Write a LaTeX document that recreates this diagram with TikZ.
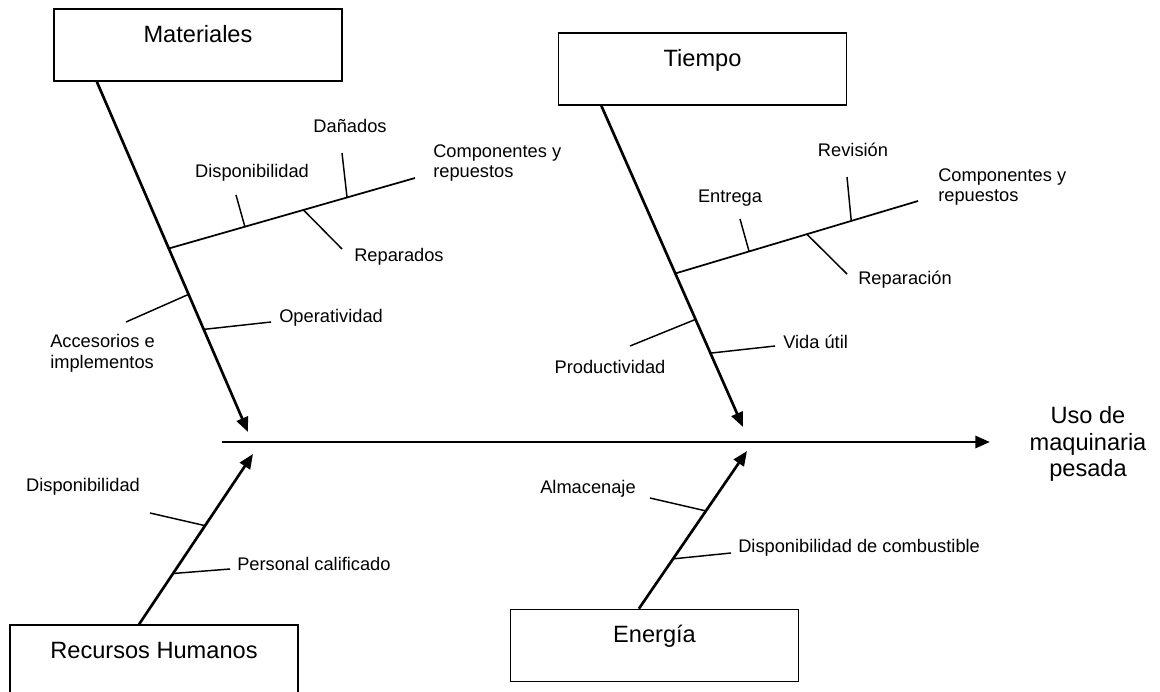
\documentclass[tikz,border=0pt]{standalone}
\usepackage{fontspec}
\setmainfont{Liberation Sans}
\usetikzlibrary{arrows.meta,calc}

\tikzset{
    causebox/.style={draw, line width=1.2pt, inner sep=0pt, minimum width=216pt,
        text height=25pt, text depth=29pt, font=\fontsize{17.7}{20}\selectfont},
    bone/.style={line width=2pt, -{Triangle[length=11pt,width=9pt]}},
    rib/.style={line width=1.3pt},
    tick/.style={line width=1.1pt},
    lbl/.style={inner sep=0pt, align=left, font=\fontsize{13.7}{15.5}\selectfont},
}

\begin{document}
\begin{tikzpicture}[x=0.75pt,y=-0.75pt]
    \useasboundingbox (0,0) rectangle (1160,692);

    % causes
    \node[causebox] (mat) at (198,45) {Materiales};
    \node[causebox] (tie) at (702.5,69) {Tiempo};
    \node[causebox] (rh) at (154,661) {Recursos Humanos};
    \node[causebox] (ene) at (654.5,645.5) {Energía};

    % effect
    \coordinate (spineL) at (222,442);
    \coordinate (spineR) at (990,442);
    \node[align=center, inner sep=0pt, font=\fontsize{17.7}{20}\selectfont] (efecto) at (1088,444) {Uso de\\maquinaria\\pesada};
    \draw[bone, line width=2.2pt] (spineL) -- (spineR);

    % Materiales
    \coordinate (matTip) at (248,432);
    \coordinate (matEnd) at (415,178);
    \draw[bone] (mat.200.75) -- coordinate[pos=.476] (m0) coordinate[pos=.607] (m1) coordinate[pos=.707] (m2) (matTip);
    \draw[rib] (m0) -- coordinate[pos=.309] (m01) coordinate[pos=.547] (m02) coordinate[pos=.724] (m03) (matEnd);
    \node[lbl] (mDisp) at (252,173) {Disponibilidad};
    \node[lbl] (mDan) at (350,126) {Dañados};
    \node[lbl, anchor=west] (mRep) at (354,257) {Reparados};
    \node[lbl, anchor=west] (mComp) at (433,163) {Componentes y\\repuestos};
    \node[lbl, anchor=west] (mAcc) at (50,353) {Accesorios e\\implementos};
    \node[lbl, anchor=west] (mOpe) at (279,318) {Operatividad};
    \draw[tick] (m01) -- (236,195) coordinate (mDispEnd);
    \draw[tick] (m02) -- (342,249) coordinate (mRepEnd);
    \draw[tick] (m03) -- (342,153) coordinate (mDanEnd);
    \draw[tick] (m1) -- (126,322) coordinate (mAccEnd);
    \draw[tick] (m2) -- (271,322) coordinate (mOpeEnd);

    % Tiempo
    \coordinate (tieTip) at (743,427);
    \coordinate (tieEnd) at (918,201);
    \draw[bone] (tie.200.66) -- coordinate[pos=.522] (t0) coordinate[pos=.665] (t1) coordinate[pos=.770] (t2) (tieTip);
    \draw[rib] (t0) -- coordinate[pos=.304] (t01) coordinate[pos=.542] (t02) coordinate[pos=.725] (t03) (tieEnd);
    \node[lbl] (tEnt) at (730,198) {Entrega};
    \node[lbl] (tRev) at (853,150) {Revisión};
    \node[lbl, anchor=west] (tRep) at (858,280) {Reparación};
    \node[lbl, anchor=west] (tComp) at (938,187) {Componentes y\\repuestos};
    \node[lbl] (tPro) at (610,367) {Productividad};
    \node[lbl, anchor=west] (tVid) at (783,342) {Vida útil};
    \draw[tick] (t01) -- (740,219) coordinate (tEntEnd);
    \draw[tick] (t02) -- (847,274) coordinate (tRepEnd);
    \draw[tick] (t03) -- (847,177) coordinate (tRevEnd);
    \draw[tick] (t1) -- (630,346) coordinate (tProEnd);
    \draw[tick] (t2) -- (775,346) coordinate (tVidEnd);

    % Recursos Humanos
    \coordinate (rhTip) at (253,454);
    \draw[bone] (rh.112.6) -- coordinate[pos=.298] (h1) coordinate[pos=.579] (h2) (rhTip);
    \node[lbl] (hDisp) at (83,487) {Disponibilidad};
    \node[lbl, anchor=west] (hPer) at (237,564) {Personal calificado};
    \draw[tick] (h2) -- (150,513) coordinate (hDispEnd);
    \draw[tick] (h1) -- (230,569) coordinate (hPerEnd);

    % Energia
    \coordinate (eneTip) at (747,451);
    \draw[bone] (ene.113) -- coordinate[pos=.316] (e1) coordinate[pos=.620] (e2) (eneTip);
    \node[lbl] (eAlm) at (588,489) {Almacenaje};
    \node[lbl, anchor=west] (eCom) at (738,548) {Disponibilidad de combustible};
    \draw[tick] (e2) -- (650,498) coordinate (eAlmEnd);
    \draw[tick] (e1) -- (731,553) coordinate (eComEnd);
\end{tikzpicture}
\end{document}
